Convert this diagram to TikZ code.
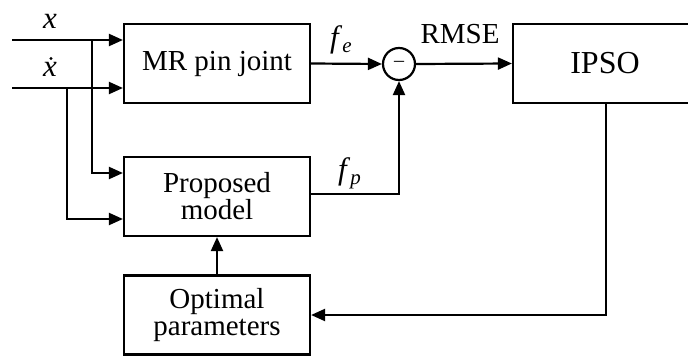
\documentclass[tikz,border=0pt]{standalone}
\usepackage{fontspec}
\setmainfont{Liberation Serif}
\usetikzlibrary{arrows.meta}
\begin{document}
\begin{tikzpicture}[x=1pt,y=-1pt,
  line width=2.2pt,
  blk/.style={draw,line width=2.2pt,minimum width=186pt,minimum height=79pt,align=center,inner sep=0pt,font=\fontsize{29}{31}\selectfont},
  arr/.style={-{Triangle[length=14pt,width=12pt]}},
  lbl/.style={inner sep=0pt,font=\fontsize{31}{32}\selectfont},
  sumc/.style={draw,circle,line width=2.2pt,minimum size=32pt,inner sep=0pt}]
\useasboundingbox (0,0) rectangle (688,356);
\node[blk] (mr) at (217,63.5) {MR pin joint};
\node[blk] (pm) at (217,196.5) {Proposed\\[-4pt]model};
\node[blk] (op) at (217,315) {Optimal\\[-4pt]parameters};
\node[blk,minimum width=184pt,font=\fontsize{32}{34}\selectfont] (ipso) at (605,63.5) {IPSO};
\node[sumc] (sum) at (399,64) {};
\node[inner sep=0pt,font=\fontsize{20}{20}\selectfont] at (sum.center) {\raisebox{0.5pt}{--}};
\coordinate (inx) at (12,40);
\coordinate (indx) at (12,88);
\coordinate (bx) at (92,40);
\coordinate (bdx) at (67,88);
\coordinate (fpc) at (399,194);
\coordinate (ipc) at (606,315);
\draw[arr] (inx) -- (inx -| mr.west);
\draw[arr] (indx) -- (indx -| mr.west);
\draw[arr] (bx) |- (pm.west |- 0,173);
\draw[arr] (bdx) |- (pm.west |- 0,219);
\draw[arr] (mr.east) -- (sum.west);
\draw[arr] (pm.east |- fpc) -- (fpc) -- (sum.south);
\draw[arr] (sum.east) -- (ipso.west);
\draw[arr] (ipso.south -| ipc) -- (ipc) -- (op.east |- ipc);
\draw[arr] (op.north) -- (pm.south);
\node[lbl] (lx) at (50,21) {\textit{x}};
\node[lbl] (ldx) at (50,69) {\textit{x}};
\fill (51,58.5) circle (1.7pt);
\node[lbl,anchor=base west] (lfe) at (329,47) {\textit{f}\raisebox{-5pt}{\fontsize{21}{21}\selectfont\textit{e}}};
\node[lbl,anchor=base west] (lfp) at (337,179) {\textit{f}\raisebox{-5pt}{\fontsize{21}{21}\selectfont\textit{p}}};
\node[lbl,font=\fontsize{29}{31}\selectfont] (lr) at (460,34) {RMSE};
\end{tikzpicture}
\end{document}
